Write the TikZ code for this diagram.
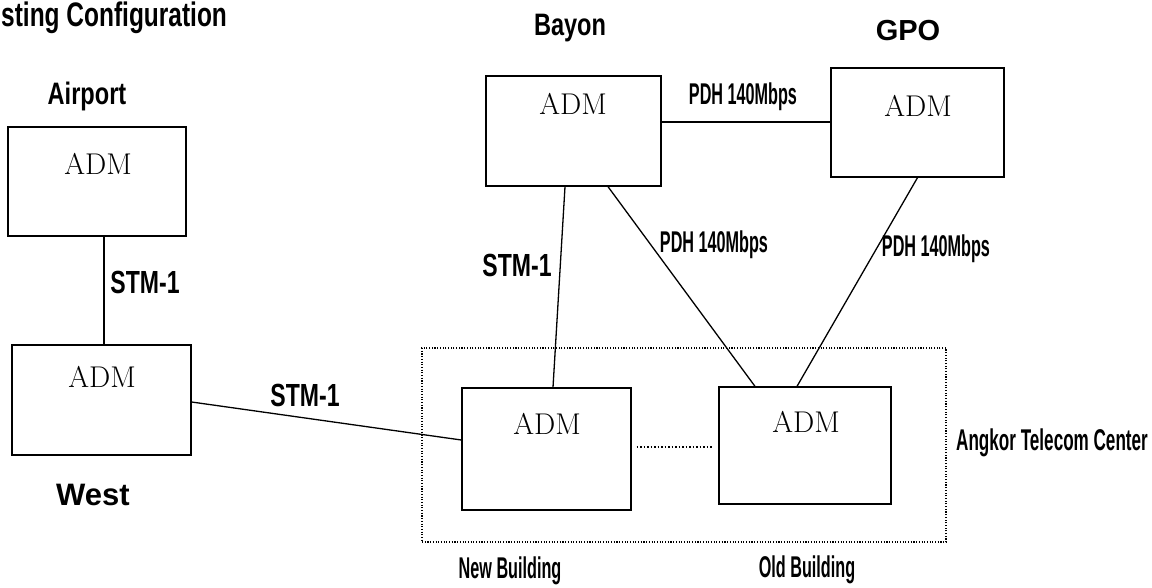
\documentclass[tikz,border=0pt]{standalone}
\usepackage{fontspec}
\newfontfamily\wideb{Liberation Sans}
\newfontfamily\condA[FakeStretch=0.54]{Liberation Sans}
\newfontfamily\condAA[FakeStretch=0.57]{Liberation Sans}
\newfontfamily\condB[FakeStretch=0.72]{Liberation Sans}
\newfontfamily\condC[FakeStretch=0.76]{Liberation Sans}
\usetikzlibrary{calc}
\tikzset{
  box/.style={draw, line width=1.3pt, inner sep=0pt},
  admtxt/.style={inner sep=0pt, font=\fontsize{30}{32}\selectfont\rmfamily},
  pdh/.style={inner sep=0pt, font=\fontsize{30}{32}\selectfont\condA\bfseries},
  stm/.style={inner sep=0pt, font=\fontsize{32}{34}\selectfont\condB\bfseries},
  site/.style={inner sep=0pt, font=\fontsize{31}{33}\selectfont\condC\bfseries},
  bigsite/.style={inner sep=0pt, font=\fontsize{31}{33}\selectfont\wideb\bfseries},
  link/.style={line width=1.3pt},
  dotlink/.style={line width=1.5pt, dash pattern=on 1.5pt off 2pt},
  area/.style={draw, line width=1.1pt, dash pattern=on 1.1pt off 1.6pt, inner sep=0pt}
}
\begin{document}
\begin{tikzpicture}[x=1pt,y=-1pt]
\useasboundingbox[fill=white] (0,0) rectangle (1152,587);

% title
\node[anchor=base west, inner sep=0pt, font=\fontsize{34}{36}\selectfont\condB\bfseries] (title) at (1,26) {sting Configuration};

% container
\node[area, minimum width=524pt, minimum height=194pt] (atc) at (684,445) {};

% boxes
\node[box, minimum width=178pt, minimum height=109pt] (airport) at (97,181.5) {};
\node[box, minimum width=179pt, minimum height=110pt] (west) at (101.5,400) {};
\node[box, minimum width=175pt, minimum height=110pt] (bayon) at (573.5,131) {};
\node[box, minimum width=173pt, minimum height=109pt] (gpo) at (917.5,122.5) {};
\node[box, minimum width=169pt, minimum height=122pt] (new) at (546.5,449) {};
\node[box, minimum width=172pt, minimum height=117pt] (old) at (805,445.5) {};

% ADM texts
\node[admtxt] (a1) at (98,164) {ADM};
\node[admtxt] (a2) at (102,377) {ADM};
\node[admtxt] (a3) at (573,104) {ADM};
\node[admtxt] (a4) at (918,106) {ADM};
\node[admtxt] (a5) at (547,424) {ADM};
\node[admtxt] (a6) at (806,422) {ADM};

% site labels
\node[site] (lairport) at (87,96) {Airport};
\node[bigsite] (lwest) at (93,495) {West};
\node[site] (lbayon) at (570,28) {Bayon};
\node[bigsite, font=\fontsize{29}{31}\selectfont\wideb\bfseries] (lgpo) at (908,31) {GPO};
\node[pdh] (lnew) at (510,571) {New Building};
\node[pdh] (lold) at (807,570) {Old Building};
\node[pdh, font=\fontsize{30}{32}\selectfont\condAA\bfseries] (latc) at (1052,443) {Angkor Telecom Center};

% connectors
\draw[link] ([xshift=7pt]airport.south) -- ([xshift=2.5pt]west.north);
\draw[link] ([yshift=-2pt]west.east) -- ([yshift=9pt]new.west);
\draw[link] ([yshift=9pt]bayon.east) -- ([yshift=0.5pt]gpo.west);
\draw[link] ([xshift=-8.5pt]bayon.south) -- ([xshift=6.5pt]new.north);
\draw[link] ([xshift=34.5pt]bayon.south) -- ([xshift=-50pt]old.north);
\draw[link] (gpo.south) -- ([xshift=-8pt]old.north);
\draw[dotlink] ([xshift=5pt,yshift=2pt]new.east) -- ([xshift=-6pt,yshift=-1.5pt]old.west);

% connector labels
\node[stm] (s1) at (145,282) {STM-1};
\node[stm] (s2) at (517,265) {STM-1};
\node[stm] (s3) at (305,395) {STM-1};
\node[pdh] (p1) at (743,97) {PDH 140Mbps};
\node[pdh] (p2) at (714,245) {PDH 140Mbps};
\node[pdh] (p3) at (936,249) {PDH 140Mbps};
\end{tikzpicture}
\end{document}
